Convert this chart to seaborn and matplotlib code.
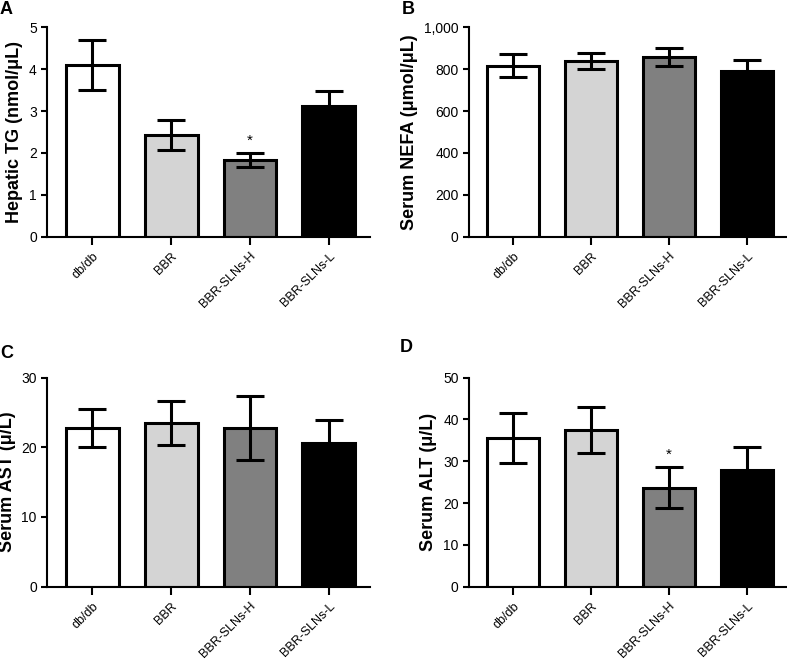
import numpy as np
import pandas as pd
import matplotlib
matplotlib.use('Agg')
import matplotlib.pyplot as plt
import seaborn as sns
from matplotlib.ticker import FuncFormatter

sns.set_style('ticks')
plt.rcParams['font.family'] = ['Liberation Sans', 'DejaVu Sans']
plt.rcParams['text.color'] = 'black'
plt.rcParams['axes.labelcolor'] = 'black'
plt.rcParams['xtick.color'] = 'black'
plt.rcParams['ytick.color'] = 'black'
plt.rcParams['axes.edgecolor'] = 'black'

groups = ['db/db', 'BBR', 'BBR-SLNs-H', 'BBR-SLNs-L']
bar_colors = ['#ffffff', '#d4d4d4', '#808080', '#000000']

# mean values, with error bar half-widths
tg_mean = [4.1, 2.43, 1.83, 3.13]
tg_err = [0.6, 0.35, 0.16, 0.35]
nefa_mean = [815, 840, 858, 790]
nefa_err = [55, 38, 42, 55]
ast_mean = [22.8, 23.5, 22.8, 20.6]
ast_err = [2.7, 3.2, 4.6, 3.3]
alt_mean = [35.5, 37.5, 23.7, 28.0]
alt_err = [6.0, 5.5, 4.9, 5.5]

panels = [
    ('A', 'Hepatic TG (nmol/μL)', tg_mean, tg_err, 5, 1, [2]),
    ('B', 'Serum NEFA (μmol/μL)', nefa_mean, nefa_err, 1000, 200, []),
    ('C', 'Serum AST (μ/L)', ast_mean, ast_err, 30, 10, []),
    ('D', 'Serum ALT (μ/L)', alt_mean, alt_err, 50, 10, [2]),
]

# axes rectangles in figure fractions, and panel letter positions
rects = [
    [0.060, 0.641, 0.410, 0.318],
    [0.596, 0.641, 0.404, 0.318],
    [0.060, 0.111, 0.410, 0.317],
    [0.596, 0.111, 0.404, 0.317],
]
letter_pos = [(0.0, 0.999), (0.511, 0.999), (0.0, 0.478), (0.508, 0.486)]

fig = plt.figure(figsize=(7.87, 6.6), dpi=100)

for (letter, ylab, means, errs, ymax, ystep, stars), rect, lp in zip(panels, rects, letter_pos):
    ax = fig.add_axes(rect)
    df = pd.DataFrame({'group': groups, 'value': means})
    sns.barplot(data=df, x='group', y='value', hue='group', palette=bar_colors,
                legend=False, width=0.67, edgecolor='black', linewidth=2.2,
                ax=ax, errorbar=None)
    ax.errorbar(np.arange(len(groups)), means, yerr=errs, fmt='none',
                ecolor='black', elinewidth=2.2, capsize=10, capthick=2.2,
                zorder=5)
    for i in stars:
        ax.text(i, means[i] + errs[i] + ymax * 0.025, '*', ha='center',
                va='bottom', fontsize=11)
    ax.set_ylim(0, ymax)
    ax.set_yticks(np.arange(0, ymax + ystep / 2, ystep))
    if ymax >= 1000:
        ax.yaxis.set_major_formatter(FuncFormatter(lambda v, p: f'{int(v):,}'))
    ax.set_xlim(-0.57, 3.52)
    ax.set_xlabel('')
    ax.set_ylabel(ylab, fontsize=13, fontweight='bold', labelpad=4)
    ax.tick_params(axis='y', labelsize=10, width=1.5, length=4, direction='out')
    ax.tick_params(axis='x', labelsize=9, width=1.5, length=6, direction='out')
    plt.setp(ax.get_xticklabels(), rotation=45, ha='right',
             rotation_mode='anchor')
    sns.despine(ax=ax)
    for s in ['left', 'bottom']:
        ax.spines[s].set_linewidth(1.5)
    fig.text(lp[0], lp[1], letter, fontsize=13, fontweight='bold',
             va='top', ha='left')

plt.savefig('out.png', dpi=100)
